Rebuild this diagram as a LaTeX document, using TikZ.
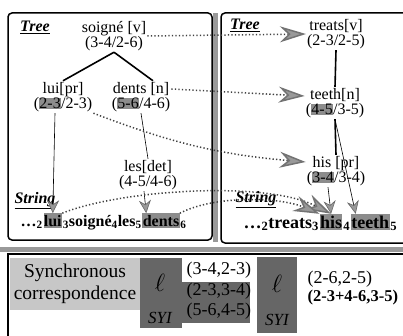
\documentclass[tikz,border=0pt]{standalone}
\usepackage{fontspec}
\setmainfont{Liberation Serif}
\usepackage{xcolor}
\usetikzlibrary{positioning, arrows.meta}

\newcommand{\hlt}[1]{{\setlength{\fboxsep}{0.3pt}\colorbox{black!45}{#1}}}

\begin{document}
\begin{tikzpicture}[x=1pt, y=-1pt,
  lbl/.style={font=\fontsize{16}{15.5}\selectfont, align=center, inner sep=1pt},
  head/.style={font=\fontsize{16}{16}\selectfont\bfseries\itshape},
  word/.style={font=\fontsize{16}{16}\selectfont\bfseries, inner xsep=0.4pt, inner ysep=1.5pt},
  hlw/.style={word, fill=black!45},
  bigword/.style={word, font=\fontsize{18}{18}\selectfont\bfseries},
  bighlw/.style={bigword, fill=black!45},
  edge/.style={line width=1.6pt},
  link/.style={-{Stealth[length=13pt, width=12pt, fill=black!40, color=black!60]}, semithick},
  cross/.style={-{Stealth[length=26pt, width=16pt, fill=black!40, color=black!55]},
                line width=1.5pt, black!75, dash pattern=on 1.3pt off 2.2pt},
  frame/.style={line width=1.5pt},
  big/.style={font=\fontsize{18}{20}\selectfont},
  ellbox/.style={fill=black!60, inner sep=0pt},
  ellsym/.style={font=\fontsize{58}{58}\selectfont},
  ellsub/.style={font=\fontsize{17}{17}\selectfont\itshape}]
  \useasboundingbox (0,0) rectangle (403,336);

  % panels
  \draw[frame, rounded corners=4pt] (8,13) rectangle (212,240);
  \fill[black!40] (213,13) rectangle (218,242);
  \draw[frame, rounded corners=4pt] (410,13) -- (221,13) -- (221,243) -- (410,243);
  \fill[black!40] (0,247) rectangle (403,252);
  \draw[frame] (8,345) -- (8,254) -- (410,254);

  % source tree
  \node[head] (treeL) at (35,27) {\underline{Tree}};
  \node[lbl] (soigne) at (114,36) {soigné [v]\\(3-4/2-6)};
  \node[lbl] (lui) at (63,97) {lui[pr]\\(\hlt{2-3}/2-3)};
  \node[lbl] (dents) at (141,97) {dents [n]\\(\hlt{5-6}/4-6)};
  \node[lbl] (les) at (148,175) {les[det]\\(4-5/4-6)};
  \node[head] (strL) at (35,201) {\underline{String}};
  \draw[edge] (soigne.south) -- (lui.north);
  \draw[edge] (soigne.south) -- ([xshift=12pt]dents.north);
  \draw[semithick] (dents.south) -- (les.north);

  \node[word, anchor=base west] (l0) at (20,226) {…\textsubscript{2}};
  \node[hlw, base right=0pt of l0] (lS) {lui};
  \node[word, base right=0pt of lS] (l2) {\textsubscript{3}soigné\textsubscript{4}les\textsubscript{5}};
  \node[hlw, base right=0pt of l2] (dS) {dents};
  \node[word, base right=0pt of dS] (l4) {\textsubscript{6}};

  % target tree
  \node[head] (treeR) at (245,25) {\underline{Tree}};
  \node[lbl] (treats) at (336,34) {treats[v]\\(2-3/2-5)};
  \node[lbl] (teeth) at (335,103) {teeth[n]\\(\hlt{4-5}/3-5)};
  \node[lbl] (his) at (336,171) {his [pr]\\(\hlt{3-4}/3-4)};
  \node[head] (strR) at (256,200) {\underline{String}};
  \draw[edge] (treats.south) -- (teeth.north);
  \draw[edge] (teeth.south) -- (his.north);

  \node[bigword, anchor=base west] (r0) at (243,228) {…\textsubscript{2}treats\textsubscript{3} };
  \node[bighlw, base right=0pt of r0] (hS) {his};
  \node[bigword, base right=0pt of hS] (r2) {\textsubscript{4} };
  \node[bighlw, base right=0pt of r2] (tS) {teeth};
  \node[bigword, base right=0pt of tS] (r4) {\textsubscript{5}};

  % tree to string
  \draw[link] ([xshift=-8pt]lui.south) -- (lS.north);
  \draw[link] ([xshift=-4pt]les.south) -- ([xshift=4pt]dS.north west);
  \draw[link] ([xshift=-8pt]his.south) -- (hS.north);
  \draw[link] (teeth.south) -- ([xshift=5pt]tS.north west);

  % correspondences
  \draw[cross] (soigne.east) -- (treats.west);
  \draw[cross] ([yshift=8pt]dents.east) -- ([yshift=7pt]teeth.west);
  \draw[cross] (lui.south east) to[bend right=8] ([yshift=9pt]his.west);
  \draw[cross] (lS.north east) .. controls (120,190) and (265,180) .. (hS.north);
  \draw[cross] (dS.north east) .. controls (215,195) and (280,197) .. (hS.north west);

  % synchronous correspondence
  \node[fill=black!22, minimum width=130pt, minimum height=52pt, align=center,
        font=\fontsize{19.5}{22}\selectfont] (sync) at (75,284) {Synchronous\\correspondence};
  \node[ellbox, minimum width=42pt, minimum height=70pt] (ellbg1) at (161,293) {};
  \node[ellbox, minimum width=68pt, minimum height=41pt] (pairbg) at (216,302) {};
  \node[ellsym] (ell1) at (160,283) {$\ell$};
  \node[ellsub] (syn1) at (160,318) {SYI};
  \node[big, anchor=west] (p1) at (183,270) {(3-4,2-3)};
  \node[big, anchor=west] (p2) at (183,291) {(2-3,3-4)};
  \node[big, anchor=west] (p3) at (183,311) {(5-6,4-5)};

  \node[ellbox, minimum width=40pt, minimum height=76pt] (ellbg2) at (277,295) {};
  \node[ellsym] (ell2) at (277,284) {$\ell$};
  \node[ellsub] (syn2) at (277,320) {SYI};
  \node[big, anchor=west] (q1) at (304,279) {(2-6,2-5)};
  \node[font=\fontsize{16.5}{18}\selectfont\bfseries, anchor=west] (q2) at (304,298) {(2-3+4-6,3-5)};
\end{tikzpicture}
\end{document}
